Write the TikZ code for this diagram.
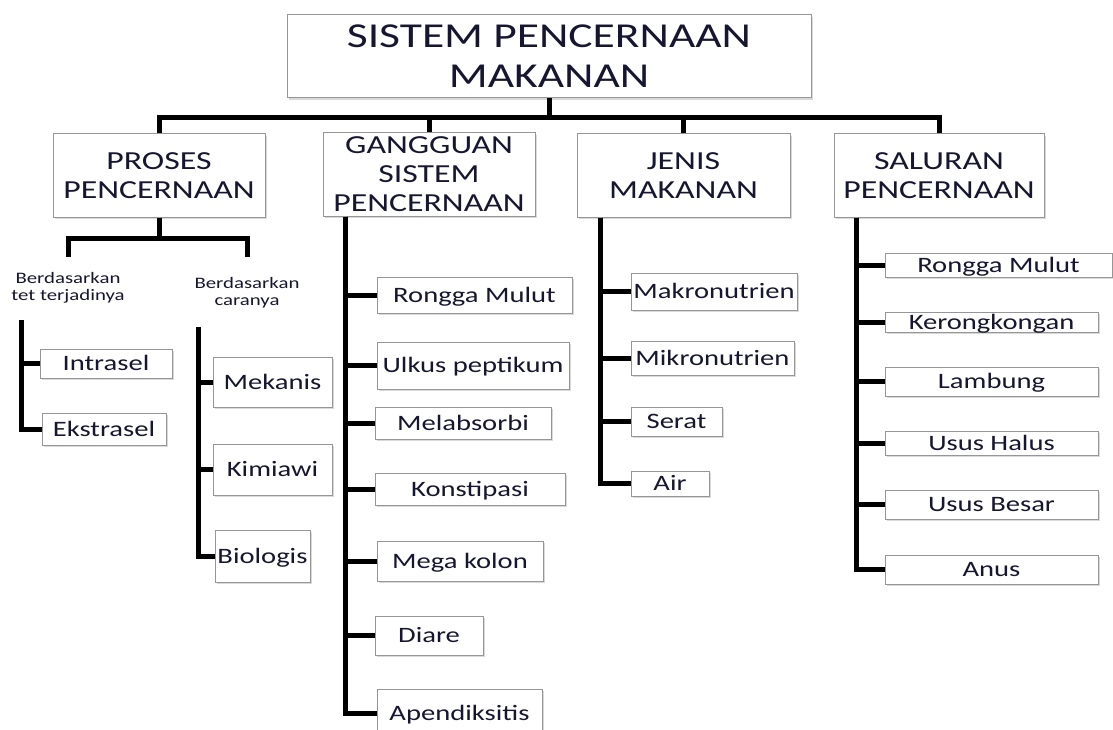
\documentclass[tikz,border=0pt]{standalone}
\usepackage{fontspec}
\setmainfont[FakeStretch=1.3]{Carlito}
\usetikzlibrary{shadows}
\definecolor{ink}{RGB}{22,22,48}
\definecolor{boxgray}{RGB}{150,150,150}
\tikzset{
  box/.style={draw=boxgray, fill=white, line width=1pt, inner sep=0pt, align=center, text=ink,
    drop shadow={shadow xshift=2pt, shadow yshift=-2pt, fill=gray!50, opacity=.6},
    font=\fontsize{26}{29}\selectfont, text depth=0pt},
  leaf/.style={box, font=\fontsize{22}{24}\selectfont, text height=14pt, text depth=0pt},
  sublabel/.style={anchor=north, inner xsep=0pt, align=center, text=ink, font=\fontsize{16}{17}\selectfont},
  wh/.style 2 args={minimum width=#1pt, minimum height=#2pt},
  conn/.style={line width=5pt, black}
}
\begin{document}
\begin{tikzpicture}[x=1pt, y=-1pt]
  \useasboundingbox (0,0) rectangle (1113,730);

  % judul
  \node[box, wh={524}{83}, font=\fontsize{35}{40}\selectfont] (spm) at (549,56.5) {SISTEM PENCERNAAN\\MAKANAN};

  % cabang utama
  \node[box, wh={212}{83}] (pp) at (159,175.5) {PROSES\\PENCERNAAN};
  \node[box, wh={212}{83}] (gsp) at (429,174.5) {GANGGUAN\\SISTEM\\PENCERNAAN};
  \node[box, wh={213}{83}] (jm) at (683.5,175.5) {JENIS\\MAKANAN};
  \node[box, wh={210}{83}] (sp) at (939,175.5) {SALURAN\\PENCERNAAN};

  \draw[conn] (spm.south) -- ++(0,19) -| (pp.north);
  \draw[conn] (spm.south) -- ++(0,19) -| (gsp.north);
  \draw[conn] (spm.south) -- ++(0,19) -| (jm.north);
  \draw[conn] (spm.south) -- ++(0,19) -| (sp.north);

  % proses pencernaan
  \node[sublabel, inner ysep=15pt] (btt) at (68,257) {Berdasarkan\\tet terjadinya};
  \node[sublabel, inner ysep=20pt] (bcr) at (247,257) {Berdasarkan\\caranya};
  \draw[conn] (pp.south) -- ++(0,21) -| (btt.north);
  \draw[conn] (pp.south) -- ++(0,21) -| (bcr.north);

  \coordinate (t1) at (21,320);
  \coordinate (t2) at (198,327);
  \node[leaf, wh={132}{29}] (intra) at (106,363.5) {Intrasel};
  \node[leaf, wh={124}{32}] (ekstra) at (104,429) {Ekstrasel};
  \node[leaf, wh={119}{50}] (mek) at (272.5,382) {Mekanis};
  \node[leaf, wh={119}{51}] (kim) at (272.5,469.5) {Kimiawi};
  \node[leaf, wh={95}{52}] (bio) at (262.5,556) {Biologis};
  \draw[conn] (t1) |- (intra.west);
  \draw[conn] (t1) |- (ekstra.west);
  \draw[conn] (t2) |- (mek.west);
  \draw[conn] (t2) |- (kim.west);
  \draw[conn] (t2) |- (bio.west);

  % gangguan sistem pencernaan
  \node[leaf, wh={195}{36}] (g1) at (474.5,295) {Rongga Mulut};
  \node[leaf, wh={192}{47}] (g2) at (473,365.5) {Ulkus peptikum};
  \node[leaf, wh={176}{32}] (g3) at (463,423) {Melabsorbi};
  \node[leaf, wh={190}{32}] (g4) at (470,489) {Konstipasi};
  \node[leaf, wh={166}{40}] (g5) at (460,561) {Mega kolon};
  \node[leaf, wh={108}{39}] (g6) at (429,635.5) {Diare};
  \node[leaf, wh={165}{48}] (g7) at (459.5,713) {Apendiksitis};
  \foreach \g in {g1,g2,g3,g4,g5,g6,g7}
    \draw[conn] ([xshift=23pt]gsp.south west) |- (\g.west);

  % jenis makanan
  \node[leaf, wh={166}{37}] (j1) at (714,291.5) {Makronutrien};
  \node[leaf, wh={163}{34}] (j2) at (712.5,358) {Mikronutrien};
  \node[leaf, wh={91}{29}] (j3) at (676.5,421.5) {Serat};
  \node[leaf, wh={78}{25}] (j4) at (670,483.5) {Air};
  \foreach \j in {j1,j2,j3,j4}
    \draw[conn] ([xshift=24pt]jm.south west) |- (\j.west);

  % saluran pencernaan
  \node[leaf, wh={227}{24}] (s1) at (998.5,265) {Rongga Mulut};
  \node[leaf, wh={213}{20}] (s2) at (991.5,322) {Kerongkongan};
  \node[leaf, wh={213}{29}] (s3) at (991.5,381.5) {Lambung};
  \node[leaf, wh={213}{24}] (s4) at (991.5,443) {Usus Halus};
  \node[leaf, wh={213}{29}] (s5) at (991.5,504.5) {Usus Besar};
  \node[leaf, wh={213}{29}] (s6) at (991.5,569.5) {Anus};
  \foreach \s in {s1,s2,s3,s4,s5,s6}
    \draw[conn] ([xshift=23pt]sp.south west) |- (\s.west);
\end{tikzpicture}
\end{document}
